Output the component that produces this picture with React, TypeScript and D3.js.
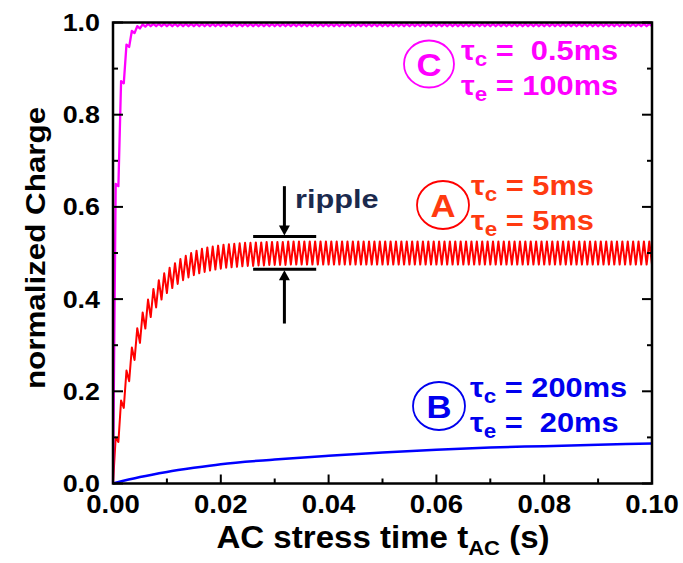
import React from "react";
import * as d3 from "d3";

// ---- data ----
const halfPeriod = 0.0005; // s, AC half period

const redPeaks = [
  0.10, 0.18, 0.245, 0.295, 0.337, 0.371, 0.399, 0.422, 0.441, 0.456,
  0.468, 0.478, 0.487, 0.494, 0.5, 0.505, 0.509, 0.512, 0.514, 0.516,
  0.518, 0.519, 0.52, 0.521, 0.522, 0.522, 0.523, 0.523, 0.524, 0.524,
  0.524, 0.524, 0.525, 0.525, 0.525, 0.525, 0.525, 0.525, 0.525, 0.525,
  0.525, 0.525, 0.525, 0.525, 0.525, 0.525, 0.525, 0.525, 0.525, 0.525,
  0.525, 0.525, 0.525, 0.525, 0.525, 0.525, 0.525, 0.525, 0.525, 0.525,
  0.525, 0.525, 0.525, 0.525, 0.525, 0.525, 0.525, 0.525, 0.525, 0.525,
  0.525, 0.525, 0.525, 0.525, 0.525, 0.525, 0.525, 0.525, 0.525, 0.525,
  0.525, 0.525, 0.525, 0.525, 0.525, 0.525, 0.525, 0.525, 0.525, 0.525,
  0.525, 0.525, 0.525, 0.525, 0.525, 0.525, 0.525, 0.525, 0.525, 0.525,
];
const redTroughs = [
  0.09, 0.164, 0.222, 0.268, 0.305, 0.336, 0.361, 0.382, 0.399, 0.413,
  0.424, 0.433, 0.441, 0.447, 0.452, 0.456, 0.459, 0.462, 0.464, 0.466,
  0.468, 0.469, 0.47, 0.471, 0.472, 0.472, 0.473, 0.473, 0.474, 0.474,
  0.474, 0.474, 0.475, 0.475, 0.475, 0.475, 0.475, 0.475, 0.475, 0.475,
  0.475, 0.475, 0.475, 0.475, 0.475, 0.475, 0.475, 0.475, 0.475, 0.475,
  0.475, 0.475, 0.475, 0.475, 0.475, 0.475, 0.475, 0.475, 0.475, 0.475,
  0.475, 0.475, 0.475, 0.475, 0.475, 0.475, 0.475, 0.475, 0.475, 0.475,
  0.475, 0.475, 0.475, 0.475, 0.475, 0.475, 0.475, 0.475, 0.475, 0.475,
  0.475, 0.475, 0.475, 0.475, 0.475, 0.475, 0.475, 0.475, 0.475, 0.475,
  0.475, 0.475, 0.475, 0.475, 0.475, 0.475, 0.475, 0.475, 0.475, 0.475,
];

const magentaPeaks = [
  0.65, 0.873, 0.952, 0.982, 0.992, 0.996, 0.997, 0.997, 0.997, 0.997,
  0.997, 0.997, 0.997, 0.997, 0.997, 0.997, 0.997, 0.997, 0.997, 0.997,
  0.997, 0.997, 0.997, 0.997, 0.997, 0.997, 0.997, 0.997, 0.997, 0.997,
  0.997, 0.997, 0.997, 0.997, 0.997, 0.997, 0.997, 0.997, 0.997, 0.997,
  0.997, 0.997, 0.997, 0.997, 0.997, 0.997, 0.997, 0.997, 0.997, 0.997,
  0.997, 0.997, 0.997, 0.997, 0.997, 0.997, 0.997, 0.997, 0.997, 0.997,
  0.997, 0.997, 0.997, 0.997, 0.997, 0.997, 0.997, 0.997, 0.997, 0.997,
  0.997, 0.997, 0.997, 0.997, 0.997, 0.997, 0.997, 0.997, 0.997, 0.997,
  0.997, 0.997, 0.997, 0.997, 0.997, 0.997, 0.997, 0.997, 0.997, 0.997,
  0.997, 0.997, 0.997, 0.997, 0.997, 0.997, 0.997, 0.997, 0.997, 0.997,
];
const magentaTroughs = [
  0.645, 0.868, 0.947, 0.977, 0.987, 0.991, 0.992, 0.992, 0.992, 0.992,
  0.992, 0.992, 0.992, 0.992, 0.992, 0.992, 0.992, 0.992, 0.992, 0.992,
  0.992, 0.992, 0.992, 0.992, 0.992, 0.992, 0.992, 0.992, 0.992, 0.992,
  0.992, 0.992, 0.992, 0.992, 0.992, 0.992, 0.992, 0.992, 0.992, 0.992,
  0.992, 0.992, 0.992, 0.992, 0.992, 0.992, 0.992, 0.992, 0.992, 0.992,
  0.992, 0.992, 0.992, 0.992, 0.992, 0.992, 0.992, 0.992, 0.992, 0.992,
  0.992, 0.992, 0.992, 0.992, 0.992, 0.992, 0.992, 0.992, 0.992, 0.992,
  0.992, 0.992, 0.992, 0.992, 0.992, 0.992, 0.992, 0.992, 0.992, 0.992,
  0.992, 0.992, 0.992, 0.992, 0.992, 0.992, 0.992, 0.992, 0.992, 0.992,
  0.992, 0.992, 0.992, 0.992, 0.992, 0.992, 0.992, 0.992, 0.992, 0.992,
];

const blueTimes = [0, 0.005, 0.01, 0.015, 0.02, 0.03, 0.04, 0.05, 0.06, 0.07, 0.08, 0.09, 0.1];
const blueValues = [0, 0.014, 0.025, 0.034, 0.042, 0.052, 0.06, 0.067, 0.073, 0.078, 0.081, 0.084, 0.087];

const xMajorTicks = [0, 0.02, 0.04, 0.06, 0.08, 0.1];
const xMajorLabels = ["0.00", "0.02", "0.04", "0.06", "0.08", "0.10"];
const xMinorTicks = [0.01, 0.03, 0.05, 0.07, 0.09];
const yMajorTicks = [0, 0.2, 0.4, 0.6, 0.8, 1.0];
const yMajorLabels = ["0.0", "0.2", "0.4", "0.6", "0.8", "1.0"];
const yMinorTicks = [0.1, 0.3, 0.5, 0.7, 0.9];

// annotation anchor values (data units)
const rippleTop = 0.536;
const rippleBottom = 0.465;
const rippleX0 = 0.026;
const rippleX1 = 0.0377;
const rippleArrowX = 0.0318;
const rippleArrowTopY = 0.645;
const rippleArrowBottomY = 0.347;

// ---- layout ----
const W = 683;
const H = 563;
const left = 113;
const right = 652;
const top = 22.5;
const bottom = 483.5;
const FONT = "'Liberation Sans', Arial, Helvetica, sans-serif";

function buildWave(peaks: number[], troughs: number[]): [number, number][] {
  const pts: [number, number][] = [[0, 0]];
  for (let k = 0; k < peaks.length; k++) {
    pts.push([(2 * k + 1) * halfPeriod, peaks[k]]);
    pts.push([(2 * k + 2) * halfPeriod, troughs[k]]);
  }
  return pts;
}

function SText(props: {
  x: number; y: number; size: number; sx?: number; anchor?: string; fill?: string; children: React.ReactNode;
}) {
  const { x, y, size, sx = 1.12, anchor = "start", fill = "#000", children } = props;
  return (
    <text
      transform={`translate(${x},${y}) scale(${sx},1)`}
      fontFamily={FONT}
      fontWeight="bold"
      fontSize={size}
      textAnchor={anchor as any}
      fill={fill}
    >
      {children}
    </text>
  );
}

function Label(props: {
  x: number; y: number; letter: string; cx: number; cy: number; rx: number; ry: number;
  circleColor: string; textColor: string; l1: string; l2: string;
}) {
  const { x, y, letter, cx, cy, rx, ry, circleColor, textColor, l1, l2 } = props;
  return (
    <g>
      <ellipse cx={cx} cy={cy} rx={rx} ry={ry} fill="none" stroke={circleColor} strokeWidth={1.8} />
      <SText x={cx} y={cy + 11.5} size={31} anchor="middle" fill={textColor}>{letter}</SText>
      <SText x={x} y={y} size={27.5} fill={textColor}>
        <tspan>τ</tspan>
        <tspan fontSize={20} dy={6}>c</tspan>
        <tspan dy={-6} xmlSpace="preserve">{l1}</tspan>
      </SText>
      <SText x={x} y={y + 35} size={27.5} fill={textColor}>
        <tspan>τ</tspan>
        <tspan fontSize={20} dy={6}>e</tspan>
        <tspan dy={-6} xmlSpace="preserve">{l2}</tspan>
      </SText>
    </g>
  );
}

export default function App() {
  const x = d3.scaleLinear().domain([0, 0.1]).range([left, right]);
  const y = d3.scaleLinear().domain([0, 1]).range([bottom, top]);
  const line = d3.line<[number, number]>().x((d) => x(d[0])).y((d) => y(d[1]));
  const blueLine = d3
    .line<[number, number]>()
    .x((d) => x(d[0]))
    .y((d) => y(d[1]))
    .curve(d3.curveMonotoneX);

  const red = buildWave(redPeaks, redTroughs);
  const magenta = buildWave(magentaPeaks, magentaTroughs);
  const blue: [number, number][] = blueTimes.map((t, i) => [t, blueValues[i]]);

  const ax = x(rippleArrowX);
  const yTop = y(rippleTop);
  const yBot = y(rippleBottom);

  return (
    <svg width={W} height={H} style={{ position: "absolute", left: 0, top: 0, background: "#fff" }}>
      <rect x={0} y={0} width={W} height={H} fill="#fff" />
      {/* curves */}
      <path d={blueLine(blue) || ""} fill="none" stroke="#0000ff" strokeWidth={2.5} />
      <path d={line(red) || ""} fill="none" stroke="#ff0000" strokeWidth={2} strokeLinejoin="round" />
      <path d={line(magenta) || ""} fill="none" stroke="#ff00ff" strokeWidth={2.3} strokeLinejoin="round" />

      {/* frame */}
      <rect x={left} y={top} width={right - left} height={bottom - top} fill="none" stroke="#000" strokeWidth={2.5} />
      {/* ticks */}
      {yMajorTicks.map((v) => (
        <g key={"ym" + v}>
          <line x1={left} x2={left + 10} y1={y(v)} y2={y(v)} stroke="#000" strokeWidth={2} />
          <line x1={right} x2={right - 10} y1={y(v)} y2={y(v)} stroke="#000" strokeWidth={2} />
        </g>
      ))}
      {yMinorTicks.map((v) => (
        <g key={"yn" + v}>
          <line x1={left} x2={left + 5} y1={y(v)} y2={y(v)} stroke="#000" strokeWidth={2} />
          <line x1={right} x2={right - 5} y1={y(v)} y2={y(v)} stroke="#000" strokeWidth={2} />
        </g>
      ))}
      {xMajorTicks.map((v) => (
        <line key={"xm" + v} x1={x(v)} x2={x(v)} y1={bottom} y2={bottom - 9} stroke="#000" strokeWidth={2} />
      ))}
      {xMinorTicks.map((v) => (
        <line key={"xn" + v} x1={x(v)} x2={x(v)} y1={bottom} y2={bottom - 5} stroke="#000" strokeWidth={2} />
      ))}

      {/* tick labels */}
      {yMajorTicks.map((v, i) => (
        <SText key={"yl" + v} x={100} y={y(v) + 8.5} size={24} anchor="end">{yMajorLabels[i]}</SText>
      ))}
      {xMajorTicks.map((v, i) => (
        <SText key={"xl" + v} x={x(v)} y={513} size={25} sx={1.1} anchor="middle">{xMajorLabels[i]}</SText>
      ))}

      {/* axis titles */}
      <SText x={383} y={548} size={31.5} sx={1.05} anchor="middle">
        <tspan>AC stress time t</tspan>
        <tspan fontSize={21} dy={7}>AC</tspan>
        <tspan dy={-7}> (s)</tspan>
      </SText>
      <text
        transform={`translate(45,248) rotate(-90) scale(1.12,1)`}
        fontFamily={FONT}
        fontWeight="bold"
        fontSize={28}
        textAnchor="middle"
        fill="#000"
      >
        normalized Charge
      </text>

      {/* ripple annotation */}
      <line x1={x(rippleX0)} x2={x(rippleX1)} y1={yTop} y2={yTop} stroke="#000" strokeWidth={3} />
      <line x1={x(rippleX0)} x2={x(rippleX1)} y1={yBot} y2={yBot} stroke="#000" strokeWidth={3} />
      <line x1={ax} x2={ax} y1={y(rippleArrowTopY)} y2={yTop - 10} stroke="#000" strokeWidth={3} />
      <path d={`M${ax - 5.5},${yTop - 11} L${ax + 5.5},${yTop - 11} L${ax},${yTop - 1} Z`} fill="#000" />
      <line x1={ax} x2={ax} y1={y(rippleArrowBottomY)} y2={yBot + 10} stroke="#000" strokeWidth={3} />
      <path d={`M${ax - 5.5},${yBot + 11} L${ax + 5.5},${yBot + 11} L${ax},${yBot + 1} Z`} fill="#000" />
      <SText x={295} y={208} size={26} sx={1.18} fill="#1b2a4e">ripple</SText>

      {/* labels */}
      <Label x={461} y={60} letter="C" cx={429} cy={64} rx={25} ry={23.5}
        circleColor="#ff00ff" textColor="#ff00ff" l1={" =  0.5ms"} l2={" = 100ms"} />
      <Label x={471} y={195} letter="A" cx={443} cy={205} rx={26} ry={24}
        circleColor="#ff0000" textColor="#ff3a10" l1={" = 5ms"} l2={" = 5ms"} />
      <Label x={470} y={397} letter="B" cx={439} cy={406} rx={26} ry={24}
        circleColor="#0000ee" textColor="#0000ee" l1={" = 200ms"} l2={" =  20ms"} />
    </svg>
  );
}
